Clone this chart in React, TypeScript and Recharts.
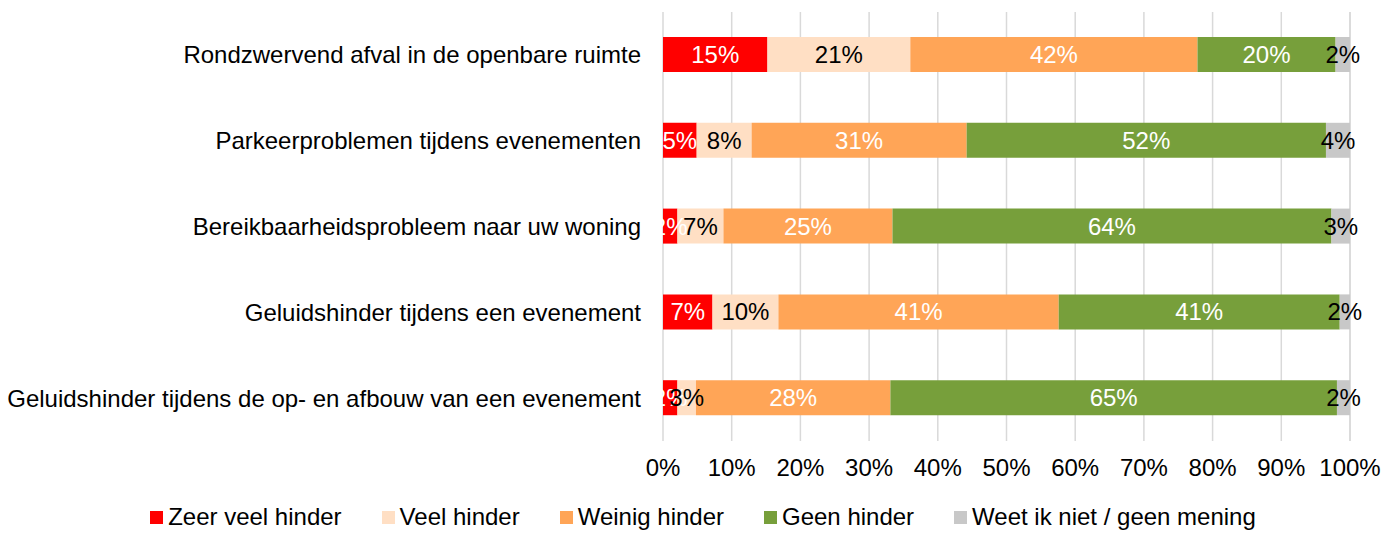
import React from 'react';
import {
  BarChart,
  Bar,
  XAxis,
  YAxis,
  CartesianGrid,
  Legend,
  LabelList,
} from 'recharts';

const categories = [
  'Rondzwervend afval in de openbare ruimte',
  'Parkeerproblemen tijdens evenementen',
  'Bereikbaarheidsprobleem naar uw woning',
  'Geluidshinder tijdens een evenement',
  'Geluidshinder tijdens de op- en afbouw van een evenement',
];

const zeerVeel = [15.2, 4.9, 2.1, 7.2, 2.1];
const veel = [20.8, 8.0, 6.7, 9.6, 2.7];
const weinig = [41.8, 31.3, 24.6, 40.8, 28.3];
const geen = [20.1, 52.3, 63.9, 40.9, 65.0];
const weetNiet = [2.1, 3.5, 2.7, 1.5, 1.9];

const xTicks = [0, 10, 20, 30, 40, 50, 60, 70, 80, 90, 100];

const series = [
  { key: 'zeerVeel', name: 'Zeer veel hinder', color: '#ff0000', text: '#ffffff' },
  { key: 'veel', name: 'Veel hinder', color: '#ffdfc4', text: '#000000' },
  { key: 'weinig', name: 'Weinig hinder', color: '#ffa557', text: '#ffffff' },
  { key: 'geen', name: 'Geen hinder', color: '#779f3b', text: '#ffffff' },
  { key: 'weetNiet', name: 'Weet ik niet / geen mening', color: '#c8c8c8', text: '#000000' },
];

const data = categories.map((name, i) => ({
  name,
  zeerVeel: zeerVeel[i],
  veel: veel[i],
  weinig: weinig[i],
  geen: geen[i],
  weetNiet: weetNiet[i],
}));

const font = '"Liberation Sans", Arial, sans-serif';
const fs = 24;

const renderLegend = () => (
  <div
    style={{
      display: 'flex',
      justifyContent: 'center',
      alignItems: 'center',
      fontFamily: font,
      fontSize: fs,
      color: '#000',
      height: 34,
      paddingTop: 6,
      paddingLeft: 56,
    }}
  >
    {series.map((s, i) => (
      <div
        key={s.key}
        style={{ display: 'flex', alignItems: 'center', marginRight: i === series.length - 1 ? 0 : 40 }}
      >
        <span style={{ width: 13, height: 13, background: s.color, marginRight: 5, display: 'inline-block' }} />
        <span>{s.name}</span>
      </div>
    ))}
  </div>
);

export default function App() {
  return (
    <div style={{ position: 'absolute', left: 0, top: 0, width: 1397, height: 534, background: '#fff' }}>
      <BarChart
        width={1397}
        height={534}
        data={data}
        layout="vertical"
        margin={{ top: 12, right: 47, bottom: 0, left: 0 }}
        barSize={35}
      >
        <CartesianGrid horizontal={false} stroke="#d9d9d9" strokeWidth={1.5} />
        <XAxis
          type="number"
          domain={[0, 100]}
          ticks={xTicks}
          tickFormatter={(v) => `${v}%`}
          tickLine={false}
          axisLine={false}
          tick={{ fontSize: fs, fill: '#000', fontFamily: font }}
          tickMargin={12}
          height={53}
          interval={0}
        />
        <YAxis
          type="category"
          dataKey="name"
          width={663}
          tickLine={false}
          axisLine={false}
          tick={{ fontSize: fs, fill: '#000', fontFamily: font }}
          tickMargin={16}
        />
        <Legend verticalAlign="bottom" content={renderLegend} />
        {series.map((s) => (
          <Bar key={s.key} dataKey={s.key} name={s.name} stackId="a" fill={s.color} isAnimationActive={false}>
            <LabelList
              dataKey={s.key}
              position="center"
              fill={s.text}
              style={{ fontSize: fs, fontFamily: font }}
              formatter={(v: any) => `${Math.round(Number(v))}%`}
            />
          </Bar>
        ))}
      </BarChart>
    </div>
  );
}
